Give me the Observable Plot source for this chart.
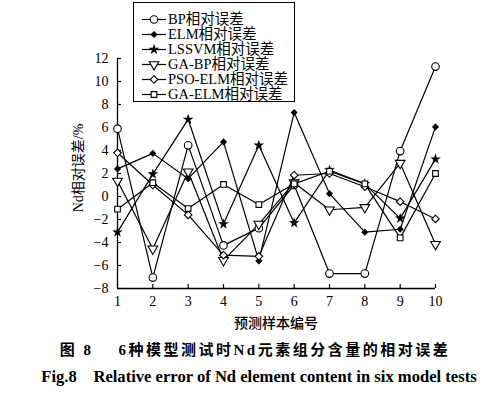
<!DOCTYPE html>
<html><head><meta charset="utf-8">
<script src="https://cdn.jsdelivr.net/npm/d3@7"></script>
<script src="https://cdn.jsdelivr.net/npm/@observablehq/plot@0.6"></script>
<style>
html,body{margin:0;padding:0;background:#fff;}
body{width:502px;height:398px;position:relative;overflow:hidden;font-family:"Liberation Serif","Noto Sans CJK SC",serif;color:#000;}
#chart{position:absolute;left:0;top:0;}
#legend{position:absolute;left:133px;top:2px;width:162px;height:100px;border:1.3px solid #000;background:#fff;box-sizing:border-box;}
.row{position:absolute;left:0;height:15px;line-height:15px;font-size:14.5px;white-space:nowrap;}
.row svg{position:absolute;left:7px;top:1px;}
.row span{position:absolute;left:34px;top:0;}
#ytitle{position:absolute;left:77px;top:168px;transform:translate(-50%,-50%) rotate(-90deg);font-size:14px;white-space:nowrap;}
#xtitle{position:absolute;left:276px;top:322px;transform:translate(-50%,-50%);font-size:14px;white-space:nowrap;font-family:"Noto Sans CJK SC",sans-serif;font-weight:500;}
#cap1{position:absolute;left:255px;top:348px;transform:translate(-50%,-50%);font-size:15px;font-weight:bold;white-space:nowrap;font-family:"Liberation Serif","Noto Sans CJK SC",serif;letter-spacing:2.5px;}
#cap2{position:absolute;left:259px;top:377px;transform:translate(-50%,-50%);font-size:16.6px;font-weight:bold;white-space:nowrap;font-family:"Liberation Serif",serif;}
</style>
</head><body>
<div id="chart"></div>
<div id="legend"></div>
<div id="ytitle">Nd相对误差/%</div>
<div id="xtitle">预测样本编号</div>
<div id="cap1">图 8&nbsp;&nbsp;&nbsp;&nbsp;6种模型测试时Nd元素组分含量的相对误差</div>
<div id="cap2">Fig.8&nbsp;&nbsp;&nbsp;&nbsp;Relative error of Nd element content in six model tests</div>
<script>
const samples = [1, 2, 3, 4, 5, 6, 7, 8, 9, 10];
const yTicks = [-8, -6, -4, -2, 0, 2, 4, 6, 8, 10, 12];
const seriesNames = ["BP相对误差", "ELM相对误差", "LSSVM相对误差", "GA-BP相对误差", "PSO-ELM相对误差", "GA-ELM相对误差"];
const bp     = [5.9, -7.05, 4.45, -4.25, -2.75, 1.0, -6.7, -6.7, 3.95, 11.3];
const elm    = [2.4, 3.75, 1.55, 4.75, -5.6, 7.3, 0.25, -3.1, -2.85, 6.05];
const lssvm  = [-3.1, 1.95, 6.7, -2.4, 4.45, -2.3, 2.3, 1.1, -1.9, 3.25];
const gabp   = [1.35, -4.55, 2.15, -5.55, -2.4, 1.2, -1.15, -0.95, 2.9, -4.15];
const psoelm = [3.8, 1.0, -1.6, -5.1, -5.2, 1.85, 2.0, 0.85, -0.45, -1.95];
const gaelm  = [-1.1, 1.2, -1.05, 1.05, -0.7, 1.1, 2.2, 1.1, -3.6, 2.0];
const seriesValues = [bp, elm, lssvm, gabp, psoelm, gaelm];

// marker styles per series
const markers = [
  {symbol: "circle",   fill: "#fff", r: 3.8, rotate: 0},
  {symbol: "diamond2", fill: "#000", r: 2.5, rotate: 0},
  {symbol: "star",     fill: "#000", r: 2.3, rotate: 0},
  {symbol: "triangle", fill: "#fff", r: 3.6, rotate: 180},
  {symbol: "diamond2", fill: "#fff", r: 3.4, rotate: 0},
  {symbol: "square",   fill: "#fff", r: 3.2, rotate: 0}
];

const data = seriesNames.flatMap((name, i) =>
  samples.map((s, j) => ({sample: s, err: seriesValues[i][j], model: name, idx: i})));

const dotMarks = markers.map((m, i) =>
  Plot.dot(data.filter(d => d.idx === i), {
    x: "sample", y: "err", symbol: () => m.symbol, r: m.r, rotate: m.rotate,
    fill: m.fill, stroke: "#000", strokeWidth: 1.1
  }));

const chart = Plot.plot({
  width: 502, height: 330,
  marginLeft: 117, marginRight: 67, marginTop: 58, marginBottom: 42,
  x: {domain: [1, 10]},
  y: {domain: [-8, 12]},
  symbol: {type: "identity"},
  style: {fontFamily: "Liberation Serif, serif", fontSize: "14px", color: "#000", background: "transparent"},
  marks: [
    Plot.ruleX([1], {stroke: "#000", strokeWidth: 1.3}),
    Plot.ruleY([-8], {stroke: "#000", strokeWidth: 1.3}),
    Plot.axisX({ticks: samples, tickSize: -4, tickPadding: 12, label: null, tickFormat: d => String(d), strokeWidth: 1.2}),
    Plot.axisY({ticks: yTicks, tickSize: -4, tickPadding: 13, label: null, strokeWidth: 1.2}),
    Plot.line(data, {x: "sample", y: "err", z: "model", stroke: "#000", strokeWidth: 1.2}),
    ...dotMarks
  ]
});
document.getElementById("chart").appendChild(chart);

// legend
const legend = d3.select("#legend");
const symMap = {circle: d3.symbolCircle, diamond2: d3.symbolDiamond2, star: d3.symbolStar, triangle: d3.symbolTriangle, square: d3.symbolSquare};
seriesNames.forEach((name, i) => {
  const m = markers[i];
  const row = legend.append("div").attr("class", "row").style("top", (9 + i * 15) + "px");
  const svg = row.append("svg").attr("width", 26).attr("height", 13);
  svg.append("line").attr("x1", 1).attr("x2", 25).attr("y1", 6.5).attr("y2", 6.5).attr("stroke", "#000").attr("stroke-width", 1.2);
  svg.append("path")
    .attr("d", d3.symbol(symMap[m.symbol], Math.PI * m.r * m.r)())
    .attr("transform", `translate(13,6.5) rotate(${m.rotate})`)
    .attr("fill", m.fill).attr("stroke", "#000").attr("stroke-width", 1.1);
  row.append("span").text(name);
});
</script>
</body></html>
